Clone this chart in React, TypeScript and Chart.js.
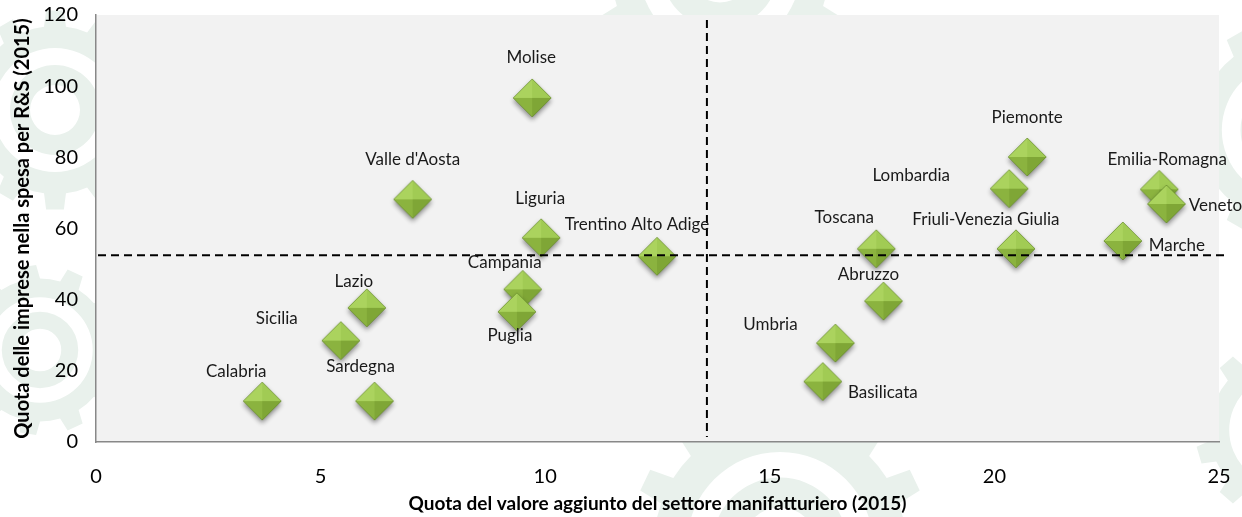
import React, { useEffect, useRef } from 'react';
import { Chart, registerables } from 'chart.js';

Chart.register(...registerables);

// ---- Data ----
const regions = [
  'Calabria', 'Sardegna', 'Sicilia', 'Lazio', "Valle d'Aosta", 'Liguria',
  'Trentino Alto Adige', 'Campania', 'Puglia', 'Molise', 'Piemonte', 'Lombardia',
  'Emilia-Romagna', 'Veneto', 'Marche', 'Friuli-Venezia Giulia', 'Toscana',
  'Abruzzo', 'Umbria', 'Basilicata',
];
const manufacturingShare = [
  3.7, 6.2, 5.45, 6.03, 7.05, 9.91, 12.49, 9.5, 9.37, 9.71, 20.73, 20.33,
  23.67, 23.83, 22.86, 20.48, 17.37, 17.53, 16.46, 16.18,
];
const rdShare = [
  11.5, 11.5, 28.5, 37.7, 68.2, 57.4, 52.2, 42.9, 36.6, 96.7, 80.1, 71.2,
  71.0, 66.9, 56.5, 54.3, 54.3, 39.6, 27.8, 17.0,
];
const xTickValues = [0, 5, 10, 15, 20, 25];
const yTickValues = [0, 20, 40, 60, 80, 100, 120];
const averageX = 13.6;
const averageY = 52.5;

const xTitle = 'Quota del valore aggiunto del settore manifatturiero (2015)';
const yTitle = 'Quota delle imprese nella spesa per R&S (2015)';

// label placement (styling): offset of each label centre from its point, px
const labelOffsets: [number, number][] = [
  [-26, -30], [-14, -35], [-64, -22], [-13, -26], [0, -40], [-1, -39],
  [-20, -32], [-18, -27], [-7, 24], [-1, -40], [0, -39], [-98, -13],
  [8, -30], [49, 2], [54, 5], [-30, -29], [-32, -31],
  [-15, -27], [-65, -19], [60, 11],
];

const FONT = 'Lato, "Noto Sans", sans-serif';

function makeDiamond(): HTMLCanvasElement {
  const c = document.createElement('canvas');
  c.width = 52;
  c.height = 58;
  const ctx = c.getContext('2d')!;
  const cx = 26, cy = 29, r = 19;
  ctx.save();
  ctx.shadowColor = 'rgba(0,0,0,0.45)';
  ctx.shadowBlur = 5;
  ctx.shadowOffsetY = 3;
  ctx.beginPath();
  ctx.moveTo(cx, cy - r);
  ctx.lineTo(cx + r, cy);
  ctx.lineTo(cx, cy + r);
  ctx.lineTo(cx - r, cy);
  ctx.closePath();
  ctx.fillStyle = '#86ad3d';
  ctx.fill();
  ctx.restore();
  const face = (ax: number, ay: number, bx: number, by: number, col: string) => {
    ctx.beginPath();
    ctx.moveTo(cx, cy);
    ctx.lineTo(ax, ay);
    ctx.lineTo(bx, by);
    ctx.closePath();
    ctx.fillStyle = col;
    ctx.fill();
  };
  face(cx - r, cy, cx, cy - r, '#abd35e');
  face(cx, cy - r, cx + r, cy, '#a1cb54');
  face(cx - r, cy, cx, cy + r, '#8bb33f');
  face(cx, cy + r, cx + r, cy, '#7fa636');
  ctx.beginPath();
  ctx.moveTo(cx, cy - r);
  ctx.lineTo(cx + r, cy);
  ctx.lineTo(cx, cy + r);
  ctx.lineTo(cx - r, cy);
  ctx.closePath();
  ctx.strokeStyle = 'rgba(90,125,35,0.7)';
  ctx.lineWidth = 0.8;
  ctx.stroke();
  return c;
}

function drawGear(ctx: CanvasRenderingContext2D, cx: number, cy: number, r: number, teeth: number, color: string) {
  ctx.save();
  ctx.beginPath();
  const inner = r * 0.84;
  const step = (Math.PI * 2) / teeth;
  for (let i = 0; i < teeth; i++) {
    const a = i * step;
    ctx.lineTo(cx + inner * Math.cos(a - step * 0.5), cy + inner * Math.sin(a - step * 0.5));
    ctx.lineTo(cx + inner * Math.cos(a - step * 0.25), cy + inner * Math.sin(a - step * 0.25));
    ctx.lineTo(cx + r * Math.cos(a - step * 0.17), cy + r * Math.sin(a - step * 0.17));
    ctx.lineTo(cx + r * Math.cos(a + step * 0.17), cy + r * Math.sin(a + step * 0.17));
    ctx.lineTo(cx + inner * Math.cos(a + step * 0.25), cy + inner * Math.sin(a + step * 0.25));
  }
  ctx.closePath();
  ctx.moveTo(cx + r * 0.62, cy);
  ctx.arc(cx, cy, r * 0.62, 0, Math.PI * 2, true);
  ctx.moveTo(cx + r * 0.45, cy);
  ctx.arc(cx, cy, r * 0.45, 0, Math.PI * 2, false);
  ctx.moveTo(cx + r * 0.25, cy);
  ctx.arc(cx, cy, r * 0.25, 0, Math.PI * 2, true);
  ctx.fillStyle = color;
  ctx.fill('evenodd');
  ctx.restore();
}

const backgroundPlugin = {
  id: 'bgDecor',
  beforeDraw(chart: any) {
    const { ctx, chartArea } = chart;
    ctx.save();
    ctx.fillStyle = '#ffffff';
    ctx.fillRect(0, 0, chart.width, chart.height);
    const col = '#e9f1ec';
    drawGear(ctx, 55, 110, 100, 12, col);
    drawGear(ctx, 40, 350, 85, 11, col);
    drawGear(ctx, 720, -30, 130, 14, col);
    drawGear(ctx, 780, 545, 150, 14, col);
    drawGear(ctx, 1290, 130, 110, 12, col);
    drawGear(ctx, 1285, 430, 90, 11, col);
    ctx.fillStyle = '#f2f2f2';
    ctx.fillRect(chartArea.left, chartArea.top, chartArea.right - chartArea.left, chartArea.bottom - chartArea.top);
    ctx.restore();
  },
};

const overlayPlugin = {
  id: 'overlay',
  afterDatasetsDraw(chart: any) {
    const { ctx, chartArea, scales } = chart;
    const xs = scales.x, ys = scales.y;
    ctx.save();
    ctx.strokeStyle = '#000000';
    ctx.lineWidth = 2;
    ctx.setLineDash([8, 5]);
    const px = xs.getPixelForValue(averageX);
    const py = ys.getPixelForValue(averageY);
    ctx.beginPath();
    ctx.moveTo(px, chartArea.top + 5);
    ctx.lineTo(px, chartArea.bottom - 5);
    ctx.stroke();
    ctx.beginPath();
    ctx.moveTo(chartArea.left + 2, py);
    ctx.lineTo(chartArea.right + 9, py);
    ctx.stroke();
    ctx.setLineDash([]);
    ctx.font = `17px ${FONT}`;
    ctx.fillStyle = '#1a1a1a';
    ctx.textAlign = 'center';
    ctx.textBaseline = 'middle';
    const meta = chart.getDatasetMeta(0);
    meta.data.forEach((pt: any, i: number) => {
      const [dx, dy] = labelOffsets[i];
      ctx.fillText(regions[i], pt.x + dx, pt.y + dy);
    });
    ctx.restore();
  },
};

export default function App() {
  const canvasRef = useRef<HTMLCanvasElement | null>(null);

  useEffect(() => {
    document.body.style.margin = '0';
    const diamond = makeDiamond();
    const chart = new Chart(canvasRef.current!, {
      type: 'scatter',
      data: {
        datasets: [
          {
            label: 'Regioni',
            data: manufacturingShare.map((x, i) => ({ x, y: rdShare[i] })),
            pointStyle: diamond as any,
            pointRadius: 19,
          },
        ],
      },
      options: {
        responsive: false,
        animation: false,
        events: [],
        layout: { autoPadding: false, padding: { left: 0, right: 23, top: 15, bottom: 0 } },
        plugins: {
          legend: { display: false },
          tooltip: { enabled: false },
        },
        scales: {
          x: {
            type: 'linear',
            min: xTickValues[0],
            max: xTickValues[xTickValues.length - 1],
            afterBuildTicks: (s: any) => { s.ticks = xTickValues.map((v) => ({ value: v })); },
            afterFit: (s: any) => {
              s.height = 75;
              s.paddingLeft = 0;
              s.paddingRight = 0;
            },
            grid: { display: false, drawTicks: false },
            border: { display: true, color: '#888888', width: 1.5 },
            ticks: { padding: 23, color: '#000000', font: { family: FONT, size: 20 } },
            title: {
              display: true,
              text: xTitle,
              color: '#000000',
              font: { family: FONT, size: 19, weight: 'bold' },
              padding: { top: 0, bottom: 2 },
            },
          },
          y: {
            type: 'linear',
            min: yTickValues[0],
            max: yTickValues[yTickValues.length - 1],
            afterBuildTicks: (s: any) => { s.ticks = yTickValues.map((v) => ({ value: v })); },
            afterFit: (s: any) => {
              s.width = 96;
              s.paddingTop = 0;
              s.paddingBottom = 0;
            },
            grid: { display: false, drawTicks: false },
            border: { display: true, color: '#888888', width: 1.5 },
            ticks: { padding: 18, color: '#000000', font: { family: FONT, size: 20 } },
            title: {
              display: true,
              text: yTitle,
              color: '#000000',
              font: { family: FONT, size: 20, weight: 'bold' },
              padding: { top: 11, bottom: 0 },
            },
          },
        },
      },
      plugins: [backgroundPlugin, overlayPlugin],
    });
    return () => chart.destroy();
  }, []);

  return (
    <div style={{ position: 'absolute', left: 0, top: 0, width: 1242, height: 517 }}>
      <canvas ref={canvasRef} width={1242} height={517} />
    </div>
  );
}
